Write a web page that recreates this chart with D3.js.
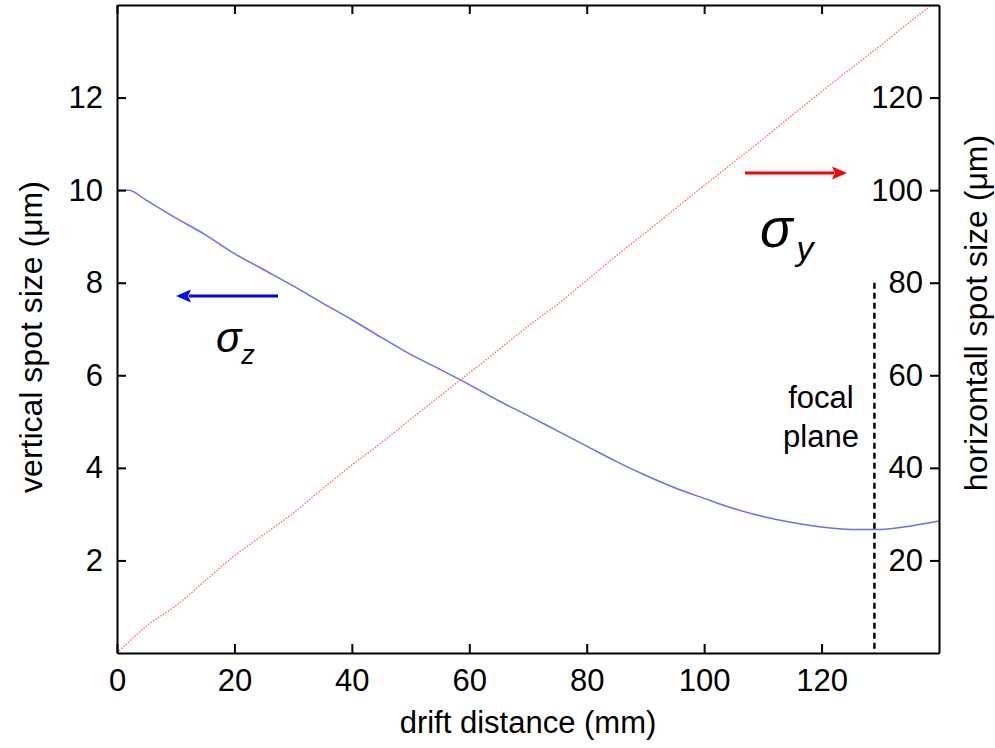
<!DOCTYPE html>
<html>
<head>
<meta charset="utf-8">
<script src="https://cdn.jsdelivr.net/npm/d3@7"></script>
<style>
  body { margin: 0; background: #fff; }
  svg { display: block; }
  text { font-family: Arial, "Liberation Sans", sans-serif; fill: #000; }
</style>
</head>
<body>
<svg id="chart" width="995" height="748"></svg>
<script>
// ---- data ----
const driftDistance = [0, 2, 5, 10, 15, 20, 25, 30, 35, 40, 45, 50, 55, 60, 65, 70, 75, 80, 85, 90, 95, 100, 105, 110, 115, 120, 125, 130, 135, 140];
const sigmaZ = [10.0, 10.0, 9.78, 9.40, 9.04, 8.63, 8.28, 7.93, 7.56, 7.20, 6.82, 6.45, 6.13, 5.80, 5.45, 5.13, 4.80, 4.47, 4.14, 3.84, 3.57, 3.34, 3.12, 2.95, 2.82, 2.72, 2.67, 2.67, 2.74, 2.85];
const sigmaY = [0, 2.4, 5.8, 10.2, 15.6, 21.0, 25.6, 30.2, 35.5, 40.6, 45.4, 50.5, 55.5, 60.5, 65.5, 70.6, 75.3, 80.5, 85.8, 90.8, 95.9, 101.0, 106.0, 111.0, 116.2, 121.3, 126.3, 131.2, 136.3, 141.2];
const xTicks = [0, 20, 40, 60, 80, 100, 120];
const leftTicks = [2, 4, 6, 8, 10, 12];
const rightTicks = [20, 40, 60, 80, 100, 120];
const focalPlane = 129;
const focalTop = 80; // on right axis

// ---- layout ----
const svg = d3.select("#chart");
const L = 117, R = 939, T = 5, B = 653;
const x = d3.scaleLinear().domain([0, 140]).range([L, R]);
const yL = d3.scaleLinear().domain([0, 14]).range([B, T]);
const yR = d3.scaleLinear().domain([0, 140]).range([B, T]);

svg.append("rect").attr("width", 995).attr("height", 748).attr("fill", "#fff");

svg.append("defs").append("clipPath").attr("id", "clip")
  .append("rect").attr("x", L).attr("y", T).attr("width", R - L).attr("height", B - T);

const pts = driftDistance.map((d, i) => ({ x: d, z: sigmaZ[i], y: sigmaY[i] }));

// red sigma_y (right axis)
svg.append("path").datum(pts)
  .attr("clip-path", "url(#clip)")
  .attr("fill", "none").attr("stroke", "#ff7070").attr("stroke-width", 1.4)
  .attr("stroke-dasharray", "1.5,1.5")
  .attr("d", d3.line().x(d => x(d.x)).y(d => yR(d.y)).curve(d3.curveMonotoneX));

// blue sigma_z (left axis)
svg.append("path").datum(pts)
  .attr("clip-path", "url(#clip)")
  .attr("fill", "none").attr("stroke", "#6c6cff").attr("stroke-width", 1.5)
  .attr("d", d3.line().x(d => x(d.x)).y(d => yL(d.z)).curve(d3.curveMonotoneX));

// focal plane dashed line
svg.append("line")
  .attr("x1", x(focalPlane)).attr("x2", x(focalPlane))
  .attr("y1", yR(focalTop)).attr("y2", B)
  .attr("stroke", "#000").attr("stroke-width", 2.5).attr("stroke-dasharray", "6,4");

// ---- axes ----
function styleAxis(g) {
  g.selectAll("path.domain").attr("stroke", "#000").attr("stroke-width", 2);
  g.selectAll(".tick line").attr("stroke", "#000").attr("stroke-width", 2);
  g.selectAll(".tick text").attr("font-size", 31).attr("font-family", "Arial, 'Liberation Sans', sans-serif").attr("fill", "#000");
}

svg.append("g").attr("transform", `translate(0,${B})`)
  .call(d3.axisBottom(x).tickValues(xTicks).tickSizeInner(-9).tickSizeOuter(0).tickPadding(16))
  .call(styleAxis);

svg.append("g").attr("transform", `translate(0,${T})`)
  .call(d3.axisTop(x).tickValues(xTicks).tickSizeInner(-9).tickSizeOuter(0).tickFormat(""))
  .call(styleAxis);

svg.append("g").attr("transform", `translate(${L},0)`)
  .call(d3.axisLeft(yL).tickValues(leftTicks).tickSizeInner(-9).tickSizeOuter(0).tickPadding(14))
  .call(styleAxis);

svg.append("g").attr("transform", `translate(${R},0)`)
  .call(d3.axisLeft(yR).tickValues(rightTicks).tickSizeInner(9).tickSizeOuter(0).tickPadding(7))
  .call(styleAxis);

// ---- axis titles ----
svg.append("text").attr("x", (L + R) / 2).attr("y", 733)
  .attr("text-anchor", "middle").attr("font-size", 31).text("drift distance (mm)");

svg.append("text").attr("transform", "translate(42,337) rotate(-90)")
  .attr("text-anchor", "middle").attr("font-size", 32).text("vertical spot size (μm)");

svg.append("text").attr("transform", "translate(987,313) rotate(-90)")
  .attr("text-anchor", "middle").attr("font-size", 32).text("horizontall spot size (μm)");

// focal plane label
svg.append("text").attr("x", 821).attr("y", 408).attr("text-anchor", "middle")
  .attr("font-size", 31).text("focal");
svg.append("text").attr("x", 821).attr("y", 447).attr("text-anchor", "middle")
  .attr("font-size", 31).text("plane");

// ---- arrows ----
function arrow(x1, x2, y, color) {
  const dir = Math.sign(x2 - x1);
  const headLen = 15, headH = 6.5;
  svg.append("line").attr("x1", x1).attr("x2", x2 - dir * headLen + dir * 2).attr("y1", y).attr("y2", y)
    .attr("stroke", color).attr("stroke-width", 3.2);
  svg.append("path")
    .attr("d", `M${x2},${y} L${x2 - dir * headLen},${y - headH} L${x2 - dir * (headLen - 3)},${y} L${x2 - dir * headLen},${y + headH} Z`)
    .attr("fill", color);
}
arrow(278, 176, 296, "#0000ff");
arrow(745, 847, 173, "#ff0000");

// ---- sigma labels ----
const serif = "'Liberation Serif', 'Times New Roman', 'DejaVu Serif', serif";
const sz = svg.append("text").attr("x", 216).attr("y", 352).attr("font-family", serif).attr("font-style", "italic");
sz.append("tspan").attr("font-size", 42).text("σ");
sz.append("tspan").attr("font-size", 27).attr("dy", 12).text("z");

const sy = svg.append("text").attr("x", 760).attr("y", 247).attr("font-family", serif).attr("font-style", "italic");
sy.append("tspan").attr("font-size", 54).text("σ");
sy.append("tspan").attr("font-size", 34).attr("dx", 4).attr("dy", 13).text("y");
</script>
</body>
</html>
